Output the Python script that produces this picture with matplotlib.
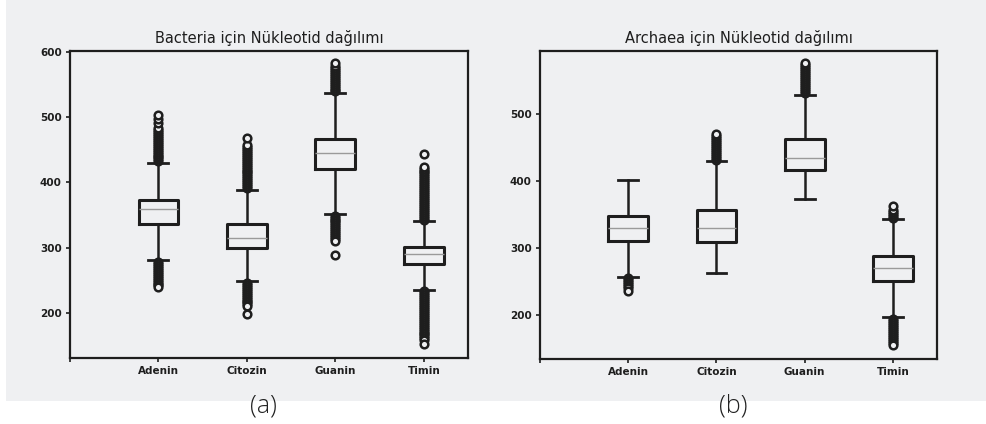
"""Nucleotide distribution box plots for Bacteria and Archaea."""

import matplotlib
matplotlib.use("Agg")
import matplotlib.pyplot as plt
from matplotlib.patches import Rectangle

BG = "#eff0f2"
INK = "#1e1e1e"

nucleotides = ["Adenin", "Citozin", "Guanin", "Timin"]

# Bacteria: box statistics
bac_med = [359, 315, 445, 290]
bac_q1 = [336, 300, 421, 275]
bac_q3 = [373, 336, 467, 301]
bac_whislo = [281, 249, 352, 235]
bac_whishi = [429, 388, 537, 341]
bac_fliers = [
    [432, 435, 438, 441, 444, 447, 450, 453, 456, 459, 462, 465, 468, 471,
     474, 477, 480, 483, 491, 497, 503,
     278, 275, 272, 269, 266, 263, 260, 257, 254, 251, 248, 245, 243, 240],
    [391, 394, 397, 400, 403, 406, 409, 412, 415, 418, 421, 424, 427, 430,
     433, 436, 439, 442, 445, 448, 451, 454, 457, 468,
     246, 243, 240, 237, 234, 231, 228, 225, 222, 219, 216, 213, 210, 198],
    [539, 542, 545, 548, 551, 554, 557, 560, 563, 566, 569, 572, 575, 578,
     583,
     349, 346, 343, 340, 337, 334, 331, 328, 325, 322, 319, 316, 313, 310,
     288],
    [343, 346, 349, 352, 355, 358, 361, 364, 367, 370, 373, 376, 379, 382,
     385, 388, 391, 394, 397, 400, 403, 406, 409, 412, 415, 418, 421, 424,
     444,
     233, 230, 227, 224, 221, 218, 215, 212, 209, 206, 203, 200, 197, 194,
     191, 188, 185, 182, 179, 176, 173, 170, 167, 164, 161, 158, 152],
]

# Archaea: box statistics
arc_med = [329, 329, 434, 270]
arc_q1 = [310, 309, 417, 251]
arc_q3 = [347, 357, 462, 288]
arc_whislo = [257, 263, 373, 196]
arc_whishi = [401, 429, 529, 343]
arc_fliers = [
    [255, 252, 249, 246, 243, 240, 236],
    [431, 434, 437, 440, 443, 446, 449, 452, 455, 458, 461, 464, 467, 470],
    [531, 534, 537, 540, 543, 546, 549, 552, 555, 558, 561, 564, 567, 570,
     573, 576],
    [345, 348, 351, 354, 357, 363,
     194, 191, 188, 185, 182, 179, 176, 173, 170, 167, 164, 161, 158, 155],
]

titles = ["Bacteria için Nükleotid dağılımı", "Archaea için Nükleotid dağılımı"]
panel_tags = ["(a)", "(b)"]


def make_stats(med, q1, q3, lo, hi, fliers):
    return [dict(med=m, q1=a, q3=b, whislo=l, whishi=h, fliers=f, label=n)
            for m, a, b, l, h, f, n in zip(med, q1, q3, lo, hi, fliers, nucleotides)]


def draw_panel(ax, stats, title, ylim):
    ax.set_facecolor(BG)
    ax.bxp(stats, positions=[1, 2, 3, 4], widths=0.45,
           boxprops=dict(color=INK, linewidth=2.2),
           whiskerprops=dict(color=INK, linewidth=1.8),
           capprops=dict(color=INK, linewidth=2.0),
           medianprops=dict(color="#9a9a9a", linewidth=1.0),
           flierprops=dict(marker="o", markersize=5.5, markeredgewidth=1.8,
                           markeredgecolor=INK, markerfacecolor=BG))
    ax.set_xticks([0, 1, 2, 3, 4])
    ax.set_xticklabels([""] + nucleotides)
    ax.set_yticks([200, 300, 400, 500, 600])
    ax.set_xlim(0, 4.5)
    ax.set_ylim(*ylim)
    ax.tick_params(length=3, width=1.2, pad=3, labelsize=7.5, colors=INK)
    for lab in ax.get_xticklabels() + ax.get_yticklabels():
        lab.set_fontweight("bold")
    for sp in ax.spines.values():
        sp.set_linewidth(1.6)
        sp.set_color(INK)
    ax.set_title(title, fontsize=10.5, color=INK, pad=6)


fig = plt.figure(figsize=(9.87, 4.24), dpi=100, facecolor="white")
fig.add_artist(Rectangle((6 / 987, 23 / 424), 1 - 6 / 987, 1 - 23 / 424,
                         transform=fig.transFigure, facecolor=BG,
                         edgecolor="none", zorder=-10))

ax1 = fig.add_axes([70 / 987, 1 - 358 / 424, 398 / 987, 307 / 424])
ax2 = fig.add_axes([540 / 987, 1 - 359 / 424, 397 / 987, 308 / 424])

draw_panel(ax1, make_stats(bac_med, bac_q1, bac_q3, bac_whislo, bac_whishi, bac_fliers),
           titles[0], (131, 601))
draw_panel(ax2, make_stats(arc_med, arc_q1, arc_q3, arc_whislo, arc_whishi, arc_fliers),
           titles[1], (134, 594))

for x, tag in zip([263 / 987, 733 / 987], panel_tags):
    fig.text(x, 1 - 406 / 424, tag, ha="center", va="center", fontsize=18,
             family="Open Sans", fontweight="light", color="#222222")

fig.savefig("out.png", dpi=100, facecolor="white")
